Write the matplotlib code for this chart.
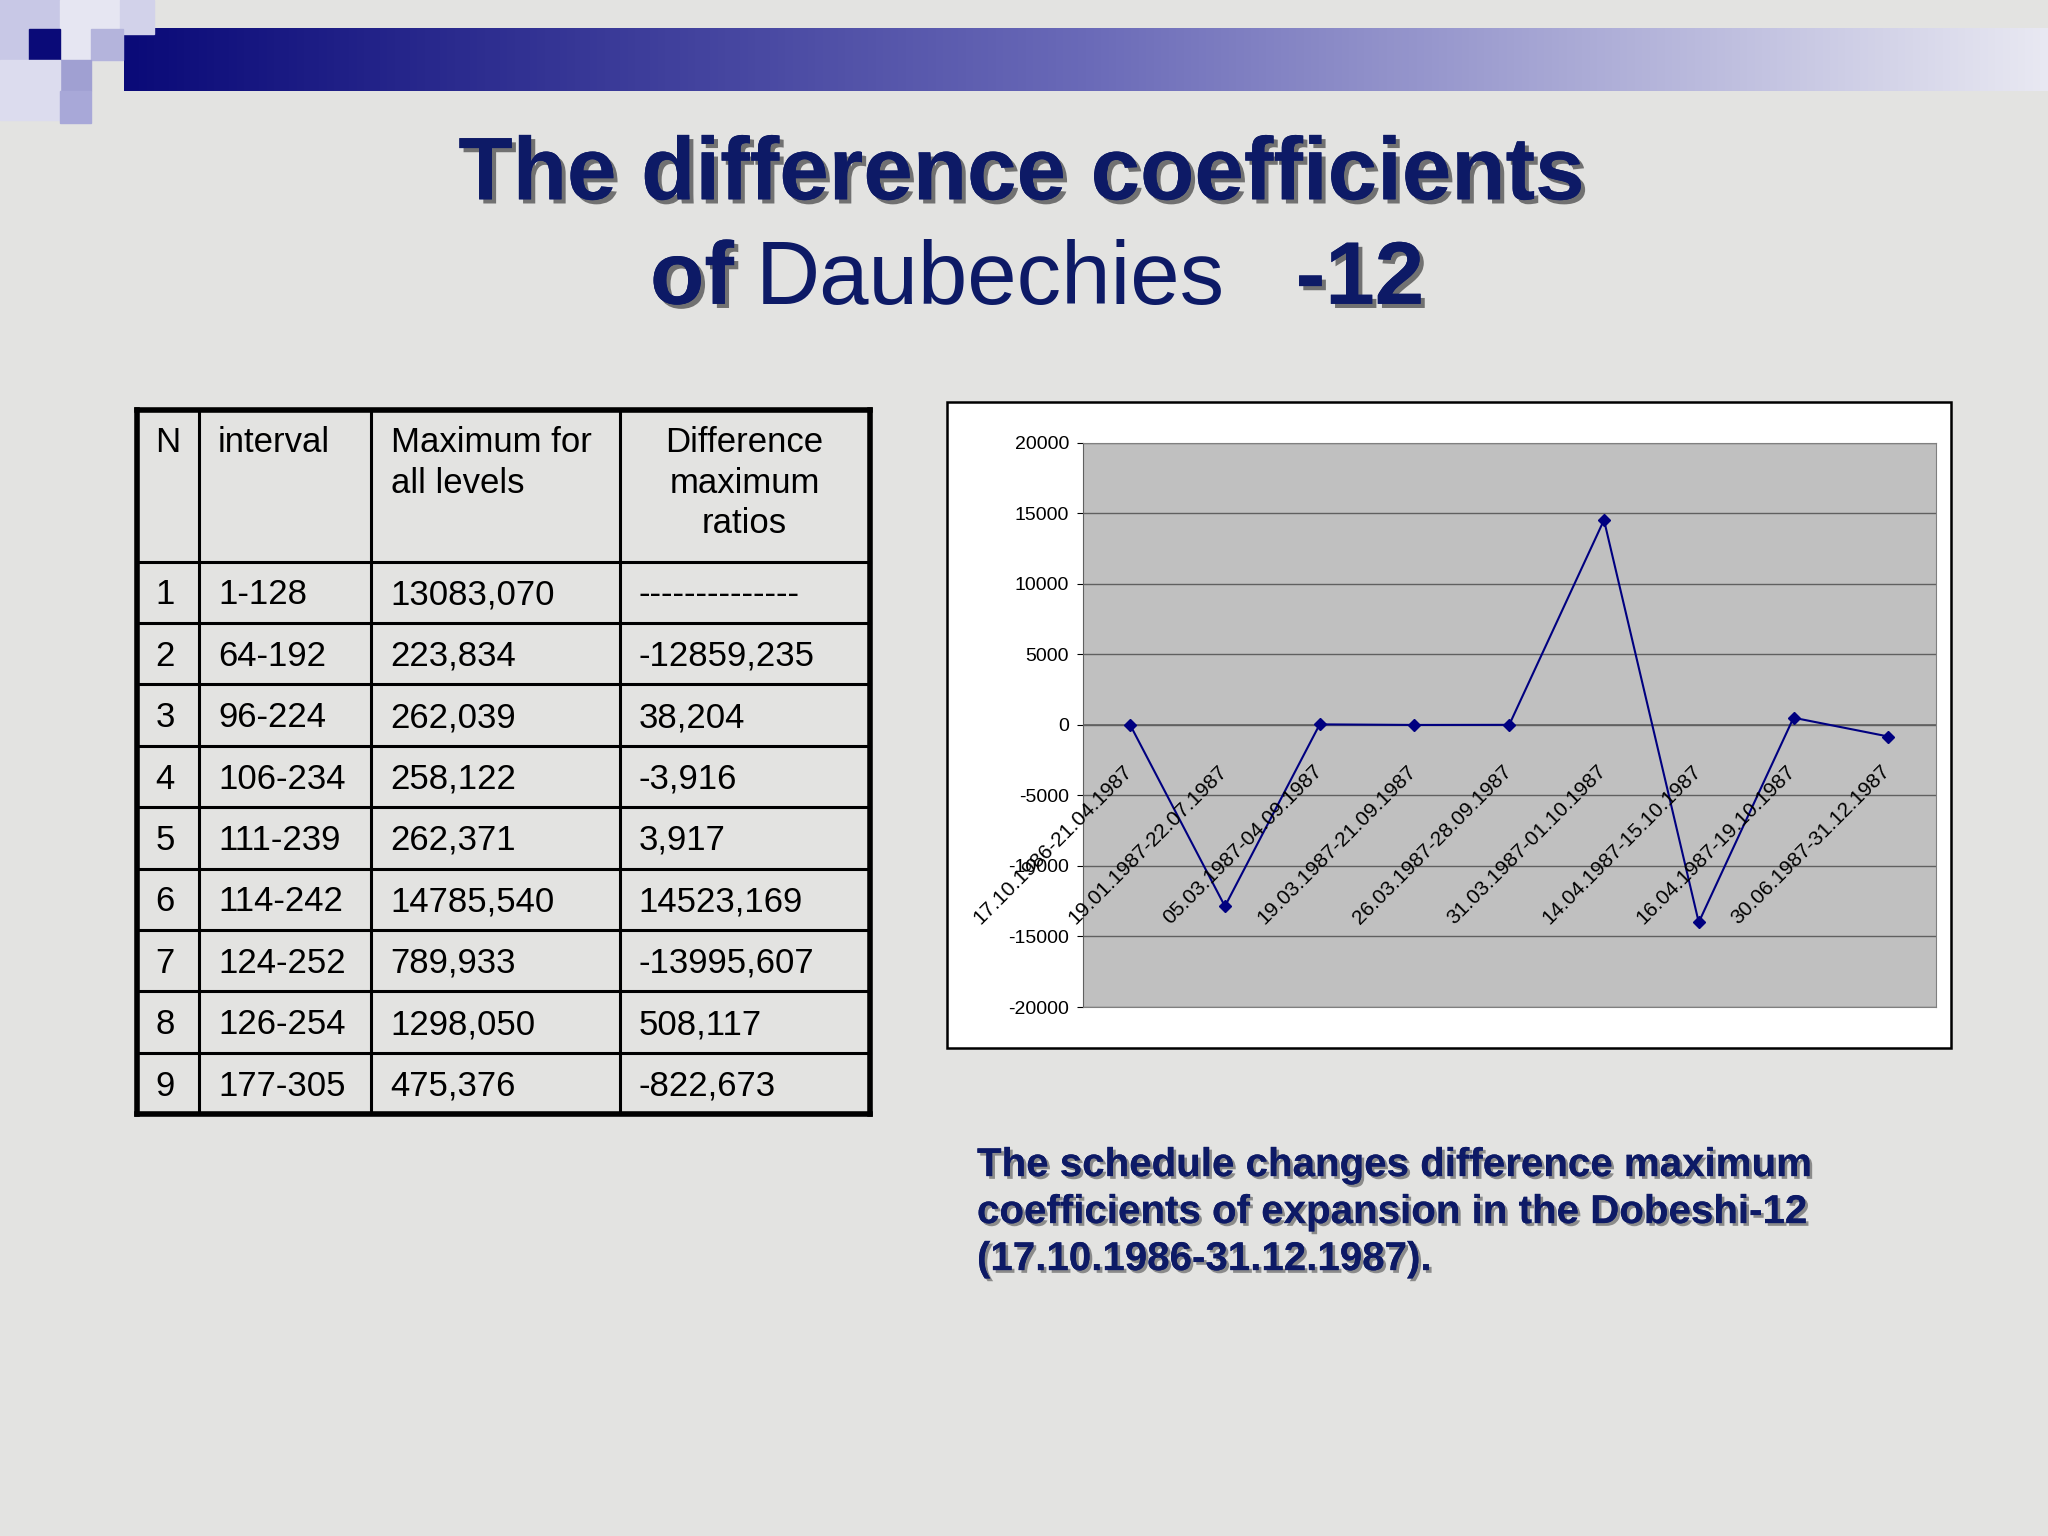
import numpy as np
import matplotlib.pyplot as plt
import matplotlib.patheffects as pe
from matplotlib.colors import LinearSegmentedColormap

plt.rcParams['font.family'] = ['Liberation Sans', 'DejaVu Sans']

# === data ===
row_n = ["1", "2", "3", "4", "5", "6", "7", "8", "9"]
intervals = ["1-128", "64-192", "96-224", "106-234", "111-239",
             "114-242", "124-252", "126-254", "177-305"]
max_all = ["13083,070", "223,834", "262,039", "258,122", "262,371",
           "14785,540", "789,933", "1298,050", "475,376"]
diff_ratio = ["--------------", "-12859,235", "38,204", "-3,916", "3,917",
              "14523,169", "-13995,607", "508,117", "-822,673"]
headers = ["N", "interval", "Maximum for\nall levels", "Difference\nmaximum\nratios"]

periods = ["17.10.1986-21.04.1987", "19.01.1987-22.07.1987", "05.03.1987-04.09.1987",
           "19.03.1987-21.09.1987", "26.03.1987-28.09.1987", "31.03.1987-01.10.1987",
           "14.04.1987-15.10.1987", "16.04.1987-19.10.1987", "30.06.1987-31.12.1987"]
diff_values = [0, -12859.235, 38.204, -3.916, 3.917, 14523.169, -13995.607, 508.117, -822.673]

NAVY = "#0d1a66"
W, H = 1568, 1176

fig = plt.figure(figsize=(20.48, 15.36), dpi=100)
fig.patch.set_facecolor("#e3e3e1")

# overlay axes in "slide pixel" coordinates
bg = fig.add_axes([0, 0, 1, 1])
bg.set_xlim(0, W)
bg.set_ylim(H, 0)
bg.axis("off")

# === top banner ===
grad = np.linspace(0, 1, 256).reshape(1, -1)
cm = LinearSegmentedColormap.from_list("bn", ["#0a0a78", "#6a6ab8", "#e8e8f2"])
bg.imshow(grad, extent=[95, W, 70, 22], aspect="auto", cmap=cm, zorder=1)
for (x, y, s, c) in [(0, 0, 46, "#c8c8e6"), (46, 0, 46, "#e6e6f2"), (92, 0, 26, "#d2d2ea"),
                     (22, 22, 24, "#0a0a78"), (70, 22, 24, "#b4b4dc"),
                     (46, 46, 24, "#a0a0d2"), (0, 46, 46, "#dcdcee"), (46, 70, 24, "#a8a8d8")]:
    bg.add_patch(plt.Rectangle((x, y), s, s, color=c, zorder=2))

# === title ===
shadow = [pe.withSimplePatchShadow(offset=(3, -3), shadow_rgbFace="#555555", alpha=0.8), pe.Normal()]
tf = 64
bg.text(782, 135, "The difference coefficients", ha="center", va="center", fontsize=tf,
        fontweight="bold", color=NAVY, path_effects=shadow, zorder=5)
bg.text(562, 215, "of", ha="right", va="center", fontsize=tf, fontweight="bold",
        color=NAVY, path_effects=shadow, zorder=5)
bg.text(579, 215, "Daubechies", ha="left", va="center", fontsize=tf, color=NAVY, zorder=5)
bg.text(992, 215, "-12", ha="left", va="center", fontsize=tf, fontweight="bold",
        color=NAVY, path_effects=shadow, zorder=5)

# === table ===
col_x = [105, 152, 284, 475, 666]
row_y = [314, 430] + [430 + 47 * (i + 1) for i in range(9)]
lw = 2.2
for x in col_x:
    bg.plot([x, x], [row_y[0], row_y[-1]], color="black", lw=lw, zorder=3)
for y in row_y:
    bg.plot([col_x[0], col_x[-1]], [y, y], color="black", lw=lw, zorder=3)
for y in (row_y[0], row_y[-1]):
    bg.plot([col_x[0], col_x[-1]], [y, y], color="black", lw=4, zorder=3)
for x in (col_x[0], col_x[-1]):
    bg.plot([x, x], [row_y[0], row_y[-1]], color="black", lw=4, zorder=3)

tfs = 25
bg.text(119, 326, headers[0], ha="left", va="top", fontsize=tfs, zorder=4)
bg.text(167, 326, headers[1], ha="left", va="top", fontsize=tfs, zorder=4)
bg.text(299, 326, headers[2], ha="left", va="top", fontsize=tfs, linespacing=1.3, zorder=4)
bg.text(570, 326, headers[3], ha="center", va="top", fontsize=tfs, linespacing=1.3, zorder=4)
for i in range(9):
    yc = (row_y[i + 1] + row_y[i + 2]) / 2 + 2
    for x, txt in zip([119, 167, 299, 489], [row_n[i], intervals[i], max_all[i], diff_ratio[i]]):
        bg.text(x, yc, txt, ha="left", va="center", fontsize=tfs, zorder=4)

# === chart box ===
bg.add_patch(plt.Rectangle((725, 308), 769, 494, facecolor="white", edgecolor="black",
                           lw=1.8, zorder=2))

ax = fig.add_axes([829 / W, 1 - 771 / H, (1482 - 829) / W, (771 - 339) / H])
ax.set_facecolor("#c0c0c0")
x = np.arange(len(diff_values))
ax.plot(x, diff_values, color="#000080", lw=1.5, marker="D", markersize=6, zorder=3)
ax.set_xlim(-0.5, len(diff_values) - 0.5)
ax.set_ylim(-20000, 20000)
ax.set_yticks(np.arange(-20000, 20001, 5000))
ax.set_yticklabels([str(v) for v in range(-20000, 20001, 5000)], fontsize=14)
ax.yaxis.grid(True, color="#606060", lw=1)
ax.set_axisbelow(True)
ax.set_xticks([])
ax.axhline(0, color="#606060", lw=1.2)
for s in ["top", "right", "bottom"]:
    ax.spines[s].set_color("#808080")
ax.spines["left"].set_color("#606060")
ax.tick_params(axis="y", length=4, colors="black", pad=6)
for xi, lab in zip(x, periods):
    ax.text(xi - 0.08, -2600, lab, rotation=45, rotation_mode="anchor", ha="right", va="top",
            fontsize=15, zorder=4)

# === caption ===
cap_shadow = [pe.withSimplePatchShadow(offset=(2, -2), shadow_rgbFace="#666666", alpha=0.7), pe.Normal()]
bg.text(748, 928, "The schedule changes difference maximum\ncoefficients of expansion in the Dobeshi-12\n(17.10.1986-31.12.1987).",
        ha="left", va="center", fontsize=29, fontweight="bold", color=NAVY, linespacing=1.3,
        path_effects=cap_shadow, zorder=5)

fig.savefig("out.png", dpi=100, facecolor=fig.get_facecolor())
